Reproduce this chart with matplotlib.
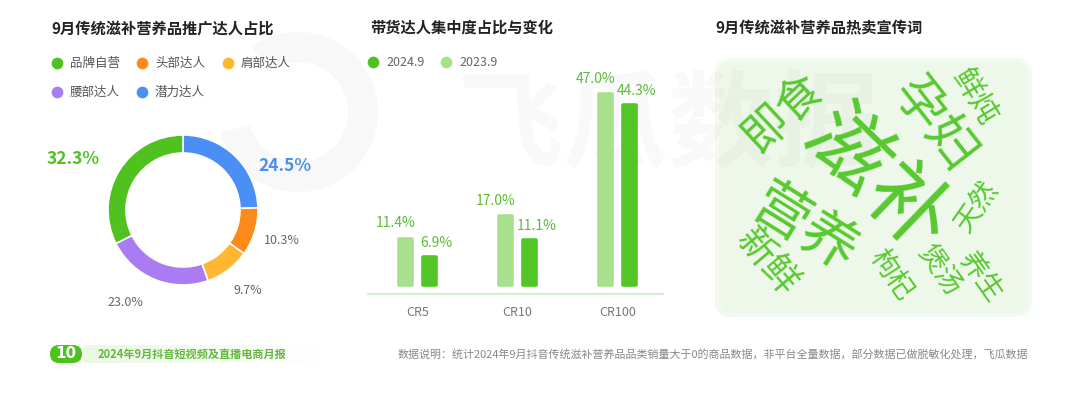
import matplotlib
matplotlib.use('Agg')
import matplotlib.pyplot as plt
from matplotlib.patches import FancyBboxPatch, Wedge
from matplotlib.colors import LinearSegmentedColormap
import numpy as np

plt.rcParams['font.family'] = ['Noto Sans CJK SC', 'DejaVu Sans']

W, H = 1080, 395

# ---- data ----
pie_labels = ['品牌自营', '头部达人', '肩部达人', '腰部达人', '潜力达人']
pie_values = [32.3, 10.3, 9.7, 23.0, 24.5]
pie_colors = ['#4fc21f', '#ff8a1c', '#ffb630', '#a97cf3', '#4b8ef5']

cr_groups = ['CR5', 'CR10', 'CR100']
cr_2024 = [6.9, 11.1, 44.3]
cr_2023 = [11.4, 17.0, 47.0]
series_names = ['2024.9', '2023.9']

cloud_words = ['滋补', '孕妇', '营养', '即食', '新鲜', '鲜炖', '天然', '枸杞', '煲汤', '养生']
cloud_weights = [1.0, 0.62, 0.68, 0.55, 0.45, 0.36, 0.33, 0.33, 0.33, 0.33]

footer_page = '10'
footer_title = '2024年9月抖音短视频及直播电商月报'
footnote = '数据说明：统计2024年9月抖音传统滋补营养品品类销量大于0的商品数据，非平台全量数据，部分数据已做脱敏化处理，飞瓜数据'

GREEN = '#4fc21f'
LIGHT_GREEN = '#a9e08e'
LABEL_GREEN = '#5cbb38'
GRAY = '#777777'


def px_axes(fig, x0, y0, w, h):
    return fig.add_axes([x0 / W, 1 - (y0 + h) / H, w / W, h / H])


fig = plt.figure(figsize=(W / 100, H / 100), dpi=100)
fig.patch.set_facecolor('white')

# overlay in pixel coords for titles, legends, word cloud, footer
ov = fig.add_axes([0, 0, 1, 1], zorder=0)
ov.set_xlim(0, W)
ov.set_ylim(H, 0)
ov.axis('off')

# faint logo
ov.add_patch(Wedge((298, 112), 80, -125, 165, width=30, facecolor='#f8f8f8',
                   edgecolor='none', zorder=0))

# titles
for x, t in [(51, '9月传统滋补营养品推广达人占比'),
             (370, '带货达人集中度占比与变化'),
             (715, '9月传统滋补营养品热卖宣传词')]:
    ov.text(x, 28, t, fontsize=11, weight='bold', color='#222222', va='center', ha='left')

# ---- donut ----
leg_pos = [(57, 63), (142, 63), (228, 63), (57, 92), (142, 92)]
for (x, y), lab, c in zip(leg_pos, pie_labels, pie_colors):
    ov.scatter([x], [y], s=55, color=c, zorder=3)
    ov.text(x + 13, y, lab, fontsize=9, color='#555555', va='center')

cx, cy, R = 183, 210, 75
box = 85
axp = px_axes(fig, cx - box, cy - box, 2 * box, 2 * box)
axp.patch.set_alpha(0)
order = [4, 1, 2, 3, 0]  # clockwise from top
axp.pie([pie_values[i] for i in order], colors=[pie_colors[i] for i in order],
        startangle=90, counterclock=False, radius=R / box,
        wedgeprops=dict(width=18 / box, edgecolor='white', linewidth=1.2))
axp.set_xlim(-1, 1)
axp.set_ylim(-1, 1)
axp.set_aspect('equal')
axp.axis('off')

# label offsets (px) from donut centre
pie_lab_pos = {0: (-110, -51, 12.5, 'bold', GREEN),
               4: (102, -44, 12.5, 'bold', '#4b8ef5'),
               1: (99, 30, 9, 'normal', '#666666'),
               2: (65, 80, 9, 'normal', '#666666'),
               3: (-58, 93, 9, 'normal', '#666666')}
for i, (dx, dy, fs, wt, c) in pie_lab_pos.items():
    ov.text(cx + dx, cy + dy, f'{pie_values[i]:.1f}%', fontsize=fs, weight=wt,
            color=c, ha='center', va='center')

# ---- bars ----
ov.scatter([373], [62], s=55, color=GREEN, zorder=3)
ov.text(386, 62, series_names[0], fontsize=9, color='#666666', va='center')
ov.scatter([446], [62], s=55, color=LIGHT_GREEN, zorder=3)
ov.text(459, 62, series_names[1], fontsize=9, color='#666666', va='center')

axb = px_axes(fig, 368, 60, 295, 234)
axb.patch.set_alpha(0)
xs = np.arange(len(cr_groups))
off = 0.118
bw = 0.125
axb.bar(xs - off, cr_2023, width=bw, color=LIGHT_GREEN, edgecolor=LIGHT_GREEN,
        linewidth=2.6, joinstyle='round')
axb.bar(xs + off, cr_2024, width=bw, color='#52c626', edgecolor='#52c626',
        linewidth=2.6, joinstyle='round')
for x, v in zip(xs, cr_2023):
    axb.annotate(f'{v:.1f}%', (x - off, v), xytext=(-7, 6), textcoords='offset points',
                 ha='center', va='bottom', fontsize=10, color=LABEL_GREEN)
for x, v in zip(xs, cr_2024):
    axb.annotate(f'{v:.1f}%', (x + off, v), xytext=(5, 5), textcoords='offset points',
                 ha='center', va='bottom', fontsize=10, color=LABEL_GREEN)
axb.set_xlim(-0.495, 2.455)
axb.set_ylim(-2.25, 55.5)
for s in ['top', 'right', 'left']:
    axb.spines[s].set_visible(False)
axb.spines['bottom'].set_color('#d6eecb')
axb.spines['bottom'].set_linewidth(1.5)
axb.set_yticks([])
axb.set_xticks(xs)
axb.set_xticklabels(cr_groups, fontsize=9, color=GRAY)
axb.tick_params(axis='x', length=0, pad=9)

# ---- word cloud ----
panel = FancyBboxPatch((717, 60), 313, 255, boxstyle='round,pad=0,rounding_size=14',
                       facecolor='#eef8ea', edgecolor='#f3faf0', linewidth=3, zorder=1)
ov.add_patch(panel)
# watermark
ov.text(668, 128, '飞瓜数据', fontsize=76, weight='bold', color='black', alpha=0.022,
        ha='center', va='center', zorder=2)

cloud_layout = [(877, 181, -44), (934, 125, -52), (804, 230, -32), (783, 113, 43),
                (767, 262, -50), (975, 97, -59), (977, 207, 55), (891, 275, -55),
                (939, 270, -55), (980, 277, -55)]
base_fs = 60
for w, wt, (x, y, rot) in zip(cloud_words, cloud_weights, cloud_layout):
    ov.text(x, y, w, fontsize=base_fs * wt, color='#57c92f', rotation=rot,
            rotation_mode='anchor', ha='center', va='center', zorder=3)

# ---- footer ----
grad = np.linspace(1, 0, 200)[None, :]
ov.imshow(grad, extent=(84, 320, 363, 345),
          cmap=LinearSegmentedColormap.from_list('g', ['#ffffff', '#eaf8e2']),
          aspect='auto', zorder=1)
ov.set_xlim(0, W)
ov.set_ylim(H, 0)
badge = FancyBboxPatch((50, 345), 32, 18, boxstyle='round,pad=0,rounding_size=9',
                       facecolor='#4cc21c', edgecolor='none', zorder=2)
ov.add_patch(badge)
ov.text(66, 354, footer_page, fontsize=11, weight='bold', color='white',
        ha='center', va='center', zorder=3, family='DejaVu Sans')
ov.text(98, 354, footer_title, fontsize=8, weight='bold', color='#63b93e',
        va='center', zorder=3)
ov.text(398, 354, footnote, fontsize=7.9, color='#888888', va='center', zorder=3)

fig.savefig('out.png', dpi=100)
